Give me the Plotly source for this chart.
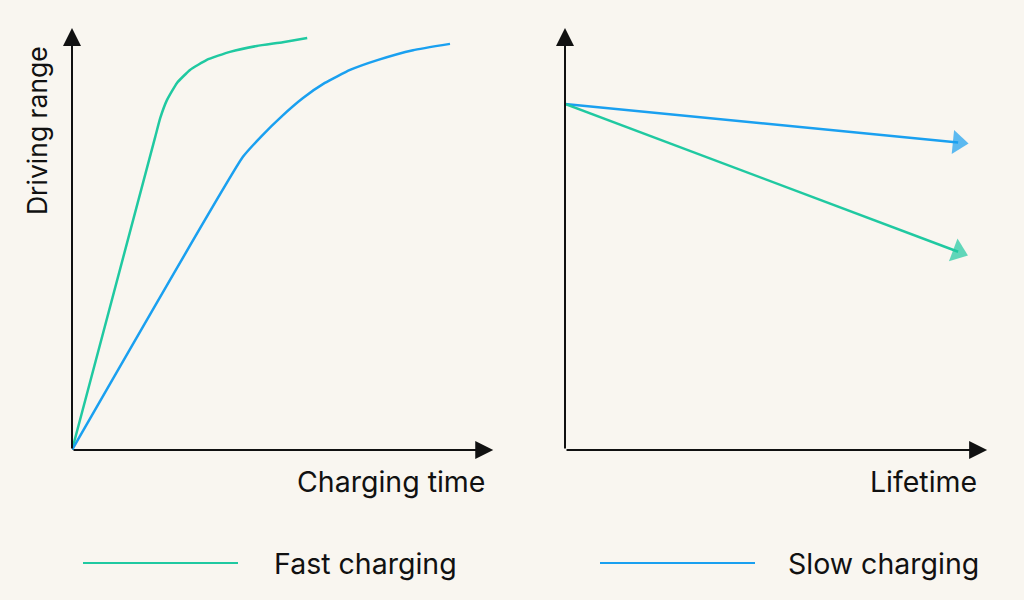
import plotly.graph_objects as go
from plotly.subplots import make_subplots

# left panel: driving range vs charging time (arbitrary units 0-100)
fast_time = [0, 19.8, 21.0, 22.6, 25.0, 28.1, 32.1, 37.6, 44.0, 50.2, 56.0]
fast_range = [0, 74.5, 79.0, 83.3, 87.4, 90.5, 92.9, 94.8, 96.2, 97.1, 98.1]
slow_time = [0, 40.7, 45.2, 50.0, 55.0, 60.2, 66.2, 72.9, 81.2, 90.0]
slow_range = [0, 69.8, 74.8, 79.5, 83.8, 87.4, 90.5, 92.9, 95.2, 96.7]

# right panel: driving range vs lifetime
life = [0, 93.6]
fast_life_range = [82.4, 47.2]
slow_life_range = [82.4, 73.2]

GREEN = "#20c9a1"
BLUE = "#1aa0f0"
BG = "#f9f6f0"
INK = "#111111"
FONT = "Inter"

fig = make_subplots(rows=1, cols=2)

fig.add_trace(go.Scatter(x=fast_time, y=fast_range, mode="lines",
                         line=dict(color=GREEN, width=2.5, shape="spline", smoothing=0.4),
                         name="Fast charging"), row=1, col=1)
fig.add_trace(go.Scatter(x=slow_time, y=slow_range, mode="lines",
                         line=dict(color=BLUE, width=2.5, shape="spline", smoothing=0.4),
                         name="Slow charging"), row=1, col=1)

for ys, col in [(slow_life_range, BLUE), (fast_life_range, GREEN)]:
    fig.add_trace(go.Scatter(x=life, y=ys, mode="lines+markers",
                             line=dict(color=col, width=2.5),
                             marker=dict(symbol="triangle-up", size=[0, 21], color=col,
                                         angleref="previous", line=dict(width=0)),
                             cliponaxis=False), row=1, col=2)

fig.update_xaxes(range=[0, 100], visible=False)
fig.update_yaxes(range=[0, 100], visible=False)
fig.update_layout(
    xaxis=dict(domain=[72 / 1024, 492 / 1024]),
    xaxis2=dict(domain=[565 / 1024, 985 / 1024]),
    yaxis=dict(domain=[0.25, 0.95]),
    yaxis2=dict(domain=[0.25, 0.95]),
)

# axis arrows
axis_arrows = [
    ("x", "y", 100.3, 0, 0, 0),
    ("x", "y", 0, 100.5, 0, 0),
    ("x2", "y2", 100.5, 0, 0, 0),
    ("x2", "y2", 0, 100.5, 0, 0),
]
for xr, yr, x1, y1, x0, y0 in axis_arrows:
    fig.add_annotation(x=x1, y=y1, ax=x0, ay=y0, xref=xr, yref=yr, axref=xr, ayref=yr,
                       showarrow=True, arrowhead=2, arrowsize=1.8, arrowwidth=2,
                       arrowcolor=INK, text="")

txt = dict(font=dict(family=FONT, size=28.5, color=INK), showarrow=False)
fig.add_annotation(text="Driving range", x=37 / 1024, y=(600 - 131) / 600, xref="paper",
                   yref="paper", textangle=-90, xanchor="center", yanchor="middle",
                   font=dict(family=FONT, size=26.5, color=INK), showarrow=False)
fig.add_annotation(text="Charging time", x=487 / 1024, y=(600 - 481) / 600, xref="paper",
                   yref="paper", xanchor="right", yanchor="middle", **txt)
fig.add_annotation(text="Lifetime", x=979 / 1024, y=(600 - 481) / 600, xref="paper",
                   yref="paper", xanchor="right", yanchor="middle", **txt)

# legend drawn by hand: long sample lines
legend_items = [("Fast charging", GREEN, 83, 238, 272), ("Slow charging", BLUE, 600, 755, 786)]
for label, col, lx0, lx1, tx in legend_items:
    fig.add_shape(type="line", x0=lx0 / 1024, x1=lx1 / 1024, y0=(600 - 563) / 600,
                  y1=(600 - 563) / 600, xref="paper", yref="paper",
                  line=dict(color=col, width=2))
    fig.add_annotation(text=label, x=tx / 1024, y=(600 - 563) / 600, xref="paper",
                       yref="paper", xanchor="left", yanchor="middle", **txt)

fig.update_layout(
    width=1024, height=600,
    margin=dict(l=0, r=0, t=0, b=0),
    paper_bgcolor=BG, plot_bgcolor=BG,
    showlegend=False,
)

fig.write_html("out.html", config={"displayModeBar": False},
               post_script="document.body.style.margin='0';")
